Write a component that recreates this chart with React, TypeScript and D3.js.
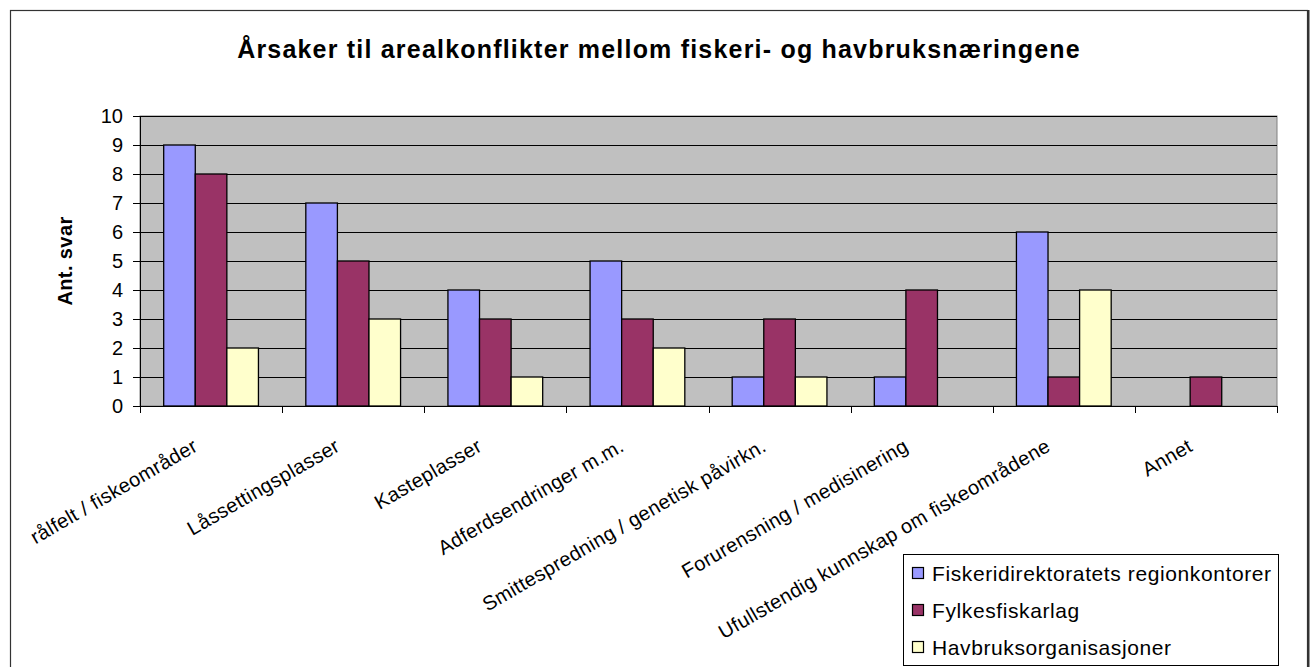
import React from 'react';
import * as d3 from 'd3';

const categories = [
  'rålfelt / fiskeområder',
  'Låssettingsplasser',
  'Kasteplasser',
  'Adferdsendringer m.m.',
  'Smittespredning / genetisk påvirkn.',
  'Forurensning / medisinering',
  'Ufullstendig kunnskap om fiskeområdene',
  'Annet',
];
const seriesNames = ['Fiskeridirektoratets regionkontorer', 'Fylkesfiskarlag', 'Havbruksorganisasjoner'];
const regionkontorer = [9, 7, 4, 5, 1, 1, 6, 0];
const fylkesfiskarlag = [8, 5, 3, 3, 3, 4, 1, 1];
const havbruk = [2, 3, 1, 2, 1, 0, 4, 0];
const yTicks = [0, 1, 2, 3, 4, 5, 6, 7, 8, 9, 10];
const colors = ['#9999FF', '#993366', '#FFFFCC'];

const font = 'Liberation Sans, Arial, sans-serif';

const App = () => {
  const W = 1312;
  const H = 667;
  const plot = { left: 140, right: 1277, top: 116, bottom: 406 };

  const seriesValues = [regionkontorer, fylkesfiskarlag, havbruk];

  const x0 = d3.scaleBand<string>()
    .domain(categories)
    .range([plot.left, plot.right])
    .paddingInner(0)
    .paddingOuter(0);

  // gap width 150% as in the original spreadsheet chart
  const bw = x0.bandwidth();
  const groupW = (bw * 3) / 4.5;
  const groupOffset = (bw - groupW) / 2;

  const x1 = d3.scaleBand<string>()
    .domain(seriesNames)
    .range([0, groupW]);

  const y = d3.scaleLinear()
    .domain([0, 10])
    .range([plot.bottom, plot.top]);

  const boundaries = d3.range(categories.length + 1).map(i => plot.left + i * bw);

  return (
    <svg width={W} height={H} style={{ position: 'absolute', left: 0, top: 0, background: '#fff' }}>
      {/* chart border */}
      <rect x={10.5} y={10.5} width={1297} height={690} fill="#fff" stroke="#333" strokeWidth={1.2} />
      <line x1={1308.5} y1={10} x2={1308.5} y2={H} stroke="#333" strokeWidth={2} />

      <text x={659} y={58} textAnchor="middle" fontFamily={font} fontWeight="bold" fontSize={25} letterSpacing={1.2}>
        Årsaker til arealkonflikter mellom fiskeri- og havbruksnæringene
      </text>

      {/* plot area */}
      <rect x={plot.left} y={plot.top} width={plot.right - plot.left} height={plot.bottom - plot.top}
        fill="#C0C0C0" stroke="#808080" strokeWidth={1} />

      {yTicks.slice(1).map(t => (
        <line key={'g' + t} x1={plot.left} x2={plot.right} y1={Math.round(y(t)) + 0.5} y2={Math.round(y(t)) + 0.5}
          stroke="#000" strokeWidth={1} />
      ))}

      {seriesValues.map((vals, si) => (
        <g key={'s' + si}>
          {vals.map((v, ci) => v > 0 ? (
            <rect key={ci}
              x={(x0(categories[ci]) as number) + groupOffset + (x1(seriesNames[si]) as number)}
              y={y(v)}
              width={x1.bandwidth()}
              height={y(0) - y(v)}
              fill={colors[si]} stroke="#000" strokeWidth={1.3} />
          ) : null)}
        </g>
      ))}

      {/* axes */}
      <line x1={plot.left + 0.5} x2={plot.left + 0.5} y1={plot.top} y2={plot.bottom} stroke="#000" strokeWidth={1} />
      <line x1={plot.left} x2={plot.right} y1={plot.bottom + 0.5} y2={plot.bottom + 0.5} stroke="#000" strokeWidth={1} />
      {yTicks.map(t => (
        <g key={'yt' + t}>
          <line x1={plot.left - 7} x2={plot.left} y1={Math.round(y(t)) + 0.5} y2={Math.round(y(t)) + 0.5} stroke="#000" />
          <text x={123} y={y(t)} dy="0.36em" textAnchor="end" fontFamily={font} fontSize={20}>{t}</text>
        </g>
      ))}
      {boundaries.map((bx, i) => (
        <line key={'xt' + i} x1={Math.round(bx) + 0.5} x2={Math.round(bx) + 0.5} y1={plot.bottom} y2={plot.bottom + 7} stroke="#000" />
      ))}
      {categories.map(c => {
        const cx = (x0(c) as number) + bw / 2;
        return (
          <text key={c} transform={`translate(${cx - 12},${450}) rotate(-30)`} textAnchor="end"
            fontFamily={font} fontSize={20} letterSpacing={0.35}>{c}</text>
        );
      })}

      <text transform={`translate(72,${(plot.top + plot.bottom) / 2}) rotate(-90)`} textAnchor="middle"
        fontFamily={font} fontWeight="bold" fontSize={20} letterSpacing={0.4}>Ant. svar</text>

      {/* legend */}
      <rect x={903.5} y={554.5} width={375} height={111} fill="#fff" stroke="#000" strokeWidth={1} />
      {seriesNames.map((s, i) => {
        const cy = 573 + i * 37;
        return (
          <g key={s}>
            <rect x={912.5} y={cy - 5.5} width={11} height={11} fill={colors[i]} stroke="#000" strokeWidth={1.2} />
            <text x={932} y={cy} dy="0.36em" fontFamily={font} fontSize={21} letterSpacing={0.6}>{s}</text>
          </g>
        );
      })}
    </svg>
  );
};

export default App;
